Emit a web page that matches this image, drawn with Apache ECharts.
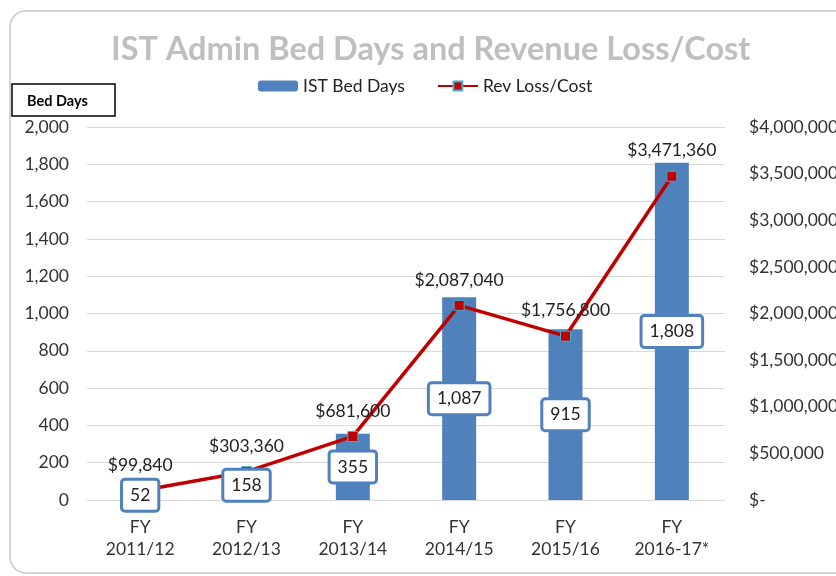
<!DOCTYPE html>
<html>
<head>
<meta charset="utf-8">
<script src="https://cdn.jsdelivr.net/npm/echarts@6/dist/echarts.min.js"></script>
<style>
  html, body { margin: 0; padding: 0; background: #fff; }
  #chart { width: 836px; height: 576px; }
</style>
</head>
<body>
<div id="chart"></div>
<script>
var categories = ['FY\n2011/12', 'FY\n2012/13', 'FY\n2013/14', 'FY\n2014/15', 'FY\n2015/16', 'FY\n2016-17*'];
var bedDays = [52, 158, 355, 1087, 915, 1808];
var revLoss = [99840, 303360, 681600, 2087040, 1756800, 3471360];

var font = 'Lato';
var blue = '#4f81bd';
var red = '#c00000';
var fs = 17.5;

function money(v) {
  if (v === 0) return '$-';
  return '$' + v.toLocaleString('en-US');
}

var chart = echarts.init(document.getElementById('chart'));

var option = {
  backgroundColor: '#fff',
  textStyle: { fontFamily: font },
  animation: false,
  title: {
    text: 'IST Admin Bed Days and Revenue Loss/Cost',
    left: 106,
    top: 28,
    textStyle: { color: '#bfbfbf', fontSize: 32.5, fontWeight: 'bold', fontFamily: font }
  },
  legend: {
    data: ['IST Bed Days', 'Rev Loss/Cost'],
    left: 253,
    top: 72,
    itemWidth: 40,
    itemHeight: 11,
    itemGap: 32,
    textStyle: { fontSize: fs, color: '#222', fontFamily: font }
  },
  grid: { left: 87, right: 111, top: 127, bottom: 76, outerBoundsMode: 'none' },
  xAxis: {
    type: 'category',
    data: categories,
    axisTick: { show: false },
    axisLine: { lineStyle: { color: '#d9d9d9' } },
    axisLabel: { color: '#333', fontSize: fs, lineHeight: 22, margin: 16, fontFamily: font }
  },
  yAxis: [
    {
      type: 'value',
      min: 0,
      max: 2000,
      interval: 200,
      axisLabel: {
        color: '#333', fontSize: fs, margin: 18, fontFamily: font,
        formatter: function (v) { return v.toLocaleString('en-US'); }
      },
      splitLine: { lineStyle: { color: '#d9d9d9' } }
    },
    {
      type: 'value',
      min: 0,
      max: 4000000,
      interval: 500000,
      splitLine: { show: false },
      axisLabel: { color: '#333', fontSize: fs, margin: 24, fontFamily: font, formatter: money }
    }
  ],
  series: [
    {
      name: 'IST Bed Days',
      type: 'bar',
      data: bedDays,
      barWidth: 34,
      itemStyle: { color: blue },
      z: 1
    },
    {
      name: 'Rev Loss/Cost',
      type: 'line',
      yAxisIndex: 1,
      data: revLoss,
      symbol: 'rect',
      symbolSize: 10,
      lineStyle: { color: red, width: 3.5 },
      itemStyle: { color: red, borderColor: '#4bacc6', borderWidth: 1 },
      label: {
        show: true,
        position: 'top',
        distance: 11,
        color: '#222',
        fontSize: fs,
        fontFamily: font,
        formatter: function (p) { return money(p.value); }
      },
      z: 3
    },
    {
      // label-only overlay so the value boxes sit above the line
      name: 'labels',
      type: 'bar',
      data: bedDays,
      barWidth: 34,
      barGap: '-100%',
      itemStyle: { color: 'rgba(0,0,0,0)' },
      label: {
        show: true,
        position: 'inside',
        color: '#222',
        fontSize: fs,
        fontFamily: font,
        backgroundColor: '#fff',
        borderColor: blue,
        borderWidth: 3,
        borderRadius: 2,
        padding: [6, 7, 5, 7],
        formatter: function (p) { return p.value.toLocaleString('en-US'); }
      },
      z: 5
    }
  ],
  graphic: [
    {
      type: 'rect',
      shape: { x: 10, y: 11, width: 900, height: 562, r: 16 },
      style: { fill: 'none', stroke: '#c8c8c8', lineWidth: 1.5 },
      z: -1,
      silent: true
    },
    {
      type: 'rect',
      shape: { x: 12, y: 84, width: 103, height: 32 },
      style: { fill: '#fff', stroke: '#000', lineWidth: 1.5 },
      z: 10
    },
    {
      type: 'text',
      x: 27,
      y: 101,
      style: { text: 'Bed Days', fill: '#000', font: 'bold 14.5px ' + font, verticalAlign: 'middle' },
      z: 11
    }
  ]
};

chart.setOption(option);
</script>
</body>
</html>
